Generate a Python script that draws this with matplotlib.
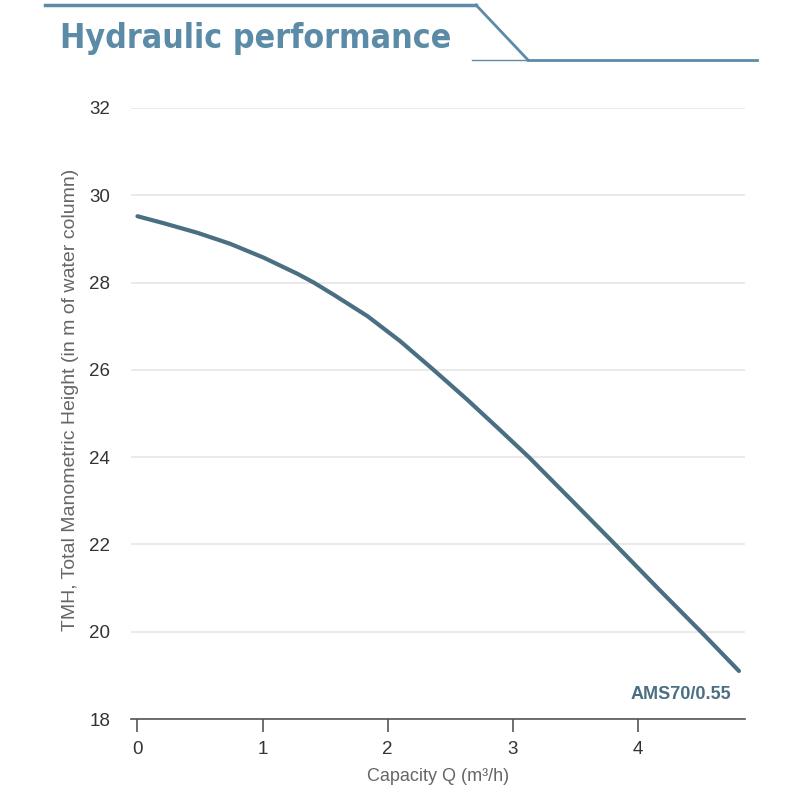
import matplotlib
matplotlib.use("Agg")
import matplotlib.pyplot as plt
from matplotlib.lines import Line2D
from matplotlib import font_manager

# pump curve
capacity = [0, 0.21, 0.48, 0.74, 1.01, 1.28, 1.41, 1.57, 1.84, 2.10, 2.36,
            2.64, 2.90, 3.13, 3.49, 3.82, 4.16, 4.52, 4.81]
head = [29.52, 29.36, 29.14, 28.89, 28.57, 28.20, 28.00, 27.72, 27.23, 26.66, 26.02,
        25.31, 24.62, 24.00, 22.96, 22.00, 21.00, 19.96, 19.10]
x_ticks = [0, 1, 2, 3, 4]
y_ticks = [18, 20, 22, 24, 26, 28, 30, 32]
MODEL = "AMS70/0.55"
TITLE = "Hydraulic performance"

LINE_COLOR = "#4b6f82"
TITLE_COLOR = "#5b8ba6"

plt.rcParams['font.family'] = ['Liberation Sans', 'DejaVu Sans']

# narrowest bold face we can find for the header
title_font = None
for f in font_manager.fontManager.ttflist:
    narrow = 'Narrow' in f.name or 'Condensed' in f.name or 'condensed' in str(f.stretch)
    if narrow and f.weight in ('bold', 700, 'semibold', 600):
        title_font = font_manager.FontProperties(fname=f.fname)
        break
if title_font is None:
    title_font = font_manager.FontProperties(family='Roboto', weight='bold')

fig = plt.figure(figsize=(8, 8), dpi=100)
ax = fig.add_axes([0.164, 0.10125, 0.7675, 0.76375])

ax.plot(capacity, head, color=LINE_COLOR, lw=3, solid_capstyle='round',
        solid_joinstyle='round')
ax.text(capacity[-1] - 0.06, head[-1] - 0.55, MODEL, color=LINE_COLOR,
        fontsize=13, fontweight='bold', ha='right', va='center')

ax.set_xlim(-0.05, 4.86)
ax.set_ylim(18, 32)
ax.set_xticks(x_ticks)
ax.set_yticks(y_ticks)
ax.grid(axis='y', color='#e6e6e6', lw=1.2)
ax.set_axisbelow(True)
for s in ['top', 'right', 'left']:
    ax.spines[s].set_visible(False)
ax.spines['bottom'].set_color('#555555')
ax.spines['bottom'].set_linewidth(1.2)
ax.tick_params(axis='x', direction='out', length=9, width=1.2, color='#555555',
               labelsize=13.5, labelcolor='#333333', pad=7)
ax.tick_params(axis='y', length=0, labelsize=13.5, labelcolor='#333333', pad=15)
ax.set_xlabel("Capacity Q (m³/h)", fontsize=13, color='#666666', labelpad=7)
ax.set_ylabel("TMH, Total Manometric Height (in m of water column)", fontsize=14,
              color='#666666')
ax.yaxis.set_label_coords(-0.085, 0.522)

# header with its decorative lines
title = fig.text(60 / 800, 1 - 48 / 800, TITLE, color=TITLE_COLOR, fontsize=28,
                 fontproperties=title_font, ha='left', va='baseline')
title.set_fontsize(28)
r = fig.canvas.get_renderer()
w = title.get_window_extent(r).width
title.set_fontsize(min(28 * 393 / w, 30))

def hline(x0, y0, x1, y1, lw):
    fig.add_artist(Line2D([x0 / 800, x1 / 800], [1 - y0 / 800, 1 - y1 / 800],
                          color=TITLE_COLOR, lw=lw))
hline(45, 5, 476, 5, 2.5)
hline(476, 5, 528, 60, 2)
hline(472, 60, 528, 60, 1)
hline(528, 60, 757, 60, 2)

fig.savefig("out.png", dpi=100, facecolor='white')
